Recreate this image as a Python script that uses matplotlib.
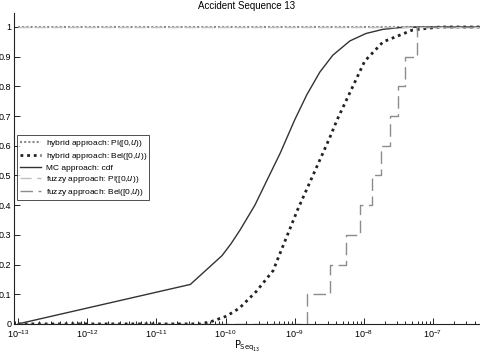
import numpy as np
import matplotlib
matplotlib.use("Agg")
import matplotlib.pyplot as plt

plt.rcParams['font.family'] = ['Liberation Sans', 'DejaVu Sans']

title = "Accident Sequence 13"
xlabel = r"$\mathrm{P}_{\mathrm{Seq}_{13}}$"

# MC approach: cdf
mc_x = [1e-13, 3.1e-11, 8.9e-11, 1.2e-10, 1.62e-10, 2.66e-10, 4.0e-10, 6.2e-10,
        1.0e-9, 1.5e-9, 2.31e-9, 3.56e-9, 6.28e-9, 1.07e-8, 1.88e-8, 3.3e-8,
        6.4e-8, 5e-7]
mc_y = [0.0, 0.133, 0.23, 0.27, 0.316, 0.40, 0.485, 0.576,
        0.687, 0.772, 0.848, 0.905, 0.953, 0.978, 0.992, 0.998,
        1.0, 1.0]

# hybrid approach: Bel([0,u))
hb_x = [1e-13, 4.3e-11, 5.9e-11, 1.0e-10, 1.3e-10, 1.62e-10, 2.8e-10, 4.9e-10,
        5.5e-10, 1.1e-9, 3.2e-9, 4.1e-9, 1.03e-8, 1.9e-8, 5.1e-8, 1.26e-7, 5e-7]
hb_y = [0.0, 0.0, 0.006, 0.025, 0.04, 0.055, 0.11, 0.18,
        0.21, 0.384, 0.626, 0.687, 0.885, 0.95, 0.99, 1.0, 1.0]

# hybrid approach: Pl([0,u))
hp_x = [1e-13, 5e-7]
hp_y = [1.0, 1.0]

# fuzzy approach: Pl([0,u))
fp_x = [1e-13, 5e-7]
fp_y = [1.0, 1.0]

# fuzzy approach: Bel([0,u)) (step function)
fb_x = [1e-13, 1.52e-9, 3.2e-9, 5.6e-9, 8.7e-9, 1.3e-8, 1.8e-8, 2.4e-8,
        3.1e-8, 4.0e-8, 5.9e-8, 5e-7]
fb_y = [0.0, 0.1, 0.2, 0.3, 0.4, 0.5, 0.6, 0.7, 0.8, 0.9, 1.0, 1.0]

fig = plt.figure(figsize=(4.8, 3.54), dpi=100)
ax = fig.add_axes([0.029, 0.085, 0.971, 0.879])

ax.plot(hp_x, hp_y, linestyle=(0, (1, 1)), color='#8a8a8a', lw=1.5,
        label='hybrid approach: Pl([0,$u$))')
ax.plot(hb_x, hb_y, linestyle=(0, (1, 1.4)), color='#222222', lw=2.0,
        label='hybrid approach: Bel([0,$u$))')
ax.plot(mc_x, mc_y, linestyle='-', color='#333333', lw=1.0,
        label='MC approach: cdf')
ax.plot(fp_x, fp_y, linestyle=(0, (8, 4)), color='#c0c0c0', lw=1.0,
        label='fuzzy approach: Pl([0,$u$))')
ax.step(fb_x, fb_y, where='post', linestyle=(0, (9, 4)), color='#8c8c8c', lw=1.0,
        label='fuzzy approach: Bel([0,$u$))')

ax.set_xscale('log')
ax.set_xlim(10**-13.06, 10**-6.32)
ax.set_ylim(0, 1.048)
ax.set_yticks(np.arange(0, 1.01, 0.1))
ax.set_yticklabels(['0', '0.1', '0.2', '0.3', '0.4', '0.5', '0.6', '0.7', '0.8', '0.9', '1'])
ax.set_xticks([1e-13, 1e-12, 1e-11, 1e-10, 1e-9, 1e-8, 1e-7])

ax.tick_params(which='both', direction='in', labelsize=6.5, width=0.6)
ax.tick_params(which='major', length=4)
ax.tick_params(which='minor', length=2)
ax.tick_params(axis='y', pad=2)
ax.tick_params(axis='x', pad=3)

for s in ['top', 'right']:
    ax.spines[s].set_visible(False)
for s in ['left', 'bottom']:
    ax.spines[s].set_linewidth(0.8)
    ax.spines[s].set_color('#222222')

ax.set_title(title, fontsize=7, pad=3)
ax.set_xlabel(xlabel, fontsize=7, labelpad=-1)

leg = ax.legend(loc='upper left', bbox_to_anchor=(0.007, 0.607), fontsize=6,
                frameon=True, fancybox=False, edgecolor='#222222',
                handlelength=2.6, handletextpad=0.5, borderpad=0.3,
                labelspacing=0.25, borderaxespad=0)
leg.get_frame().set_linewidth(0.7)

fig.savefig('out.png', dpi=100)
